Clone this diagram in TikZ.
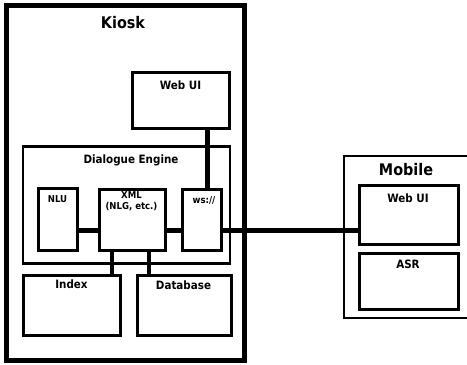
\documentclass[tikz,border=0pt]{standalone}
\usepackage{fontspec}
\setmainfont{DejaVu Sans Condensed}[BoldFont={DejaVu Sans Condensed Bold}]
\begin{document}
\begin{tikzpicture}[x=1pt,y=-1pt,
  box/.style={draw=black, line width=3pt, rectangle, inner sep=0pt, outer sep=0pt},
  conn/.style={draw=black, line width=4.5pt},
  big/.style={font=\bfseries\fontsize{16}{18}\selectfont, anchor=base, inner sep=0pt},
  mid/.style={font=\bfseries\fontsize{11.5}{13}\selectfont, anchor=base, inner sep=0pt},
  small/.style={font=\bfseries\fontsize{9.5}{11}\selectfont, anchor=base, inner sep=0pt, align=center}]
\clip (0,0) rectangle (467,365);
\fill[white] (0,0) rectangle (467,365);
% boxes
\node[box, line width=5pt, minimum width=238pt, minimum height=355.5pt] (kiosk) at (125,182.75) {};
\node[box, minimum width=97.5pt, minimum height=56.5pt] (webk) at (180.75,100.25) {};
\node[box, line width=2.5pt, minimum width=207pt, minimum height=117pt] (de) at (126.5,205) {};
\node[box, minimum width=39pt, minimum height=62pt] (nlu) at (57.5,219.5) {};
\node[box, minimum width=66.5pt, minimum height=61pt] (xml) at (132.25,220) {};
\node[box, minimum width=39pt, minimum height=60.5pt] (ws) at (201.5,219.75) {};
\node[box, minimum width=97pt, minimum height=60pt] (index) at (71.5,305) {};
\node[box, minimum width=94pt, minimum height=60pt] (db) at (184,305.5) {};
\node[box, line width=2pt, minimum width=131.5pt, minimum height=162.5pt] (mobile) at (409.25,236.75) {};
\node[box, minimum width=99pt, minimum height=58.5pt] (webm) at (409,214.75) {};
\node[box, minimum width=99pt, minimum height=56.5pt] (asr) at (409,281.25) {};
% labels
\node[big] (kioskl) at (123,28) {Kiosk};
\node[mid] (webkl) at (180.5,89) {Web UI};
\node[mid] (del) at (131,163) {Dialogue Engine};
\node[small] (nlul) at (57.5,202.5) {NLU};
\node[small, anchor=north] (xmll) at (131.5,191) {XML\\(NLG, etc.)};
\node[small] (wsl) at (204,203) {ws://};
\node[mid] (indexl) at (71.5,288.5) {Index};
\node[mid] (dbl) at (183.5,289) {Database};
\node[big] (mobilel) at (406,175) {Mobile};
\node[mid] (webml) at (408,202) {Web UI};
\node[mid] (asrl) at (408,268) {ASR};
% connectors
\coordinate (busy) at (0,230.5);
\coordinate (vx) at (207.5,0);
\coordinate (ix) at (112,0);
\coordinate (dx) at (149,0);
\draw[conn] (nlu.east |- busy) -- (xml.west |- busy);
\draw[conn] (xml.east |- busy) -- (ws.west |- busy);
\draw[conn] (ws.east |- busy) -- (webm.west |- busy);
\draw[conn] (vx |- webk.south) -- (vx |- ws.north);
\draw[conn] (ix |- xml.south) -- (ix |- index.north);
\draw[conn] (dx |- xml.south) -- (dx |- db.north);
\end{tikzpicture}
\end{document}
